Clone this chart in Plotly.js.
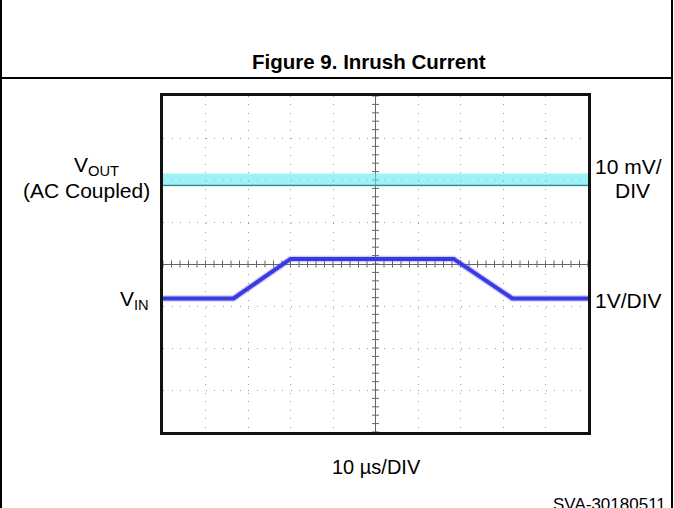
<!DOCTYPE html>
<html>
<head>
<meta charset="utf-8">
<script src="https://cdn.plot.ly/plotly-3.0.1.min.js"></script>
<style>html,body{margin:0;padding:0;background:#fff;}#chart{width:674px;height:508px;}</style>
</head>
<body>
<div id="chart"></div>
<script>
// ---- data (time in µs, 10 µs/div; amplitude in divisions) ----
const vinTime = [-50, -33.4, -20.0, 18.4, 32.2, 50];
const vinLevel = [-0.82, -0.82, 0.12, 0.12, -0.82, -0.82];
const voutTime = [-50, 50];
const voutBand = [2.0, 2.0];
const voutBase = [1.87, 1.87];
const xRange = [-50, 50];
const yRange = [-4, 4];

const titleText = "Figure 9. Inrush Current";
const leftLabels = ["V<sub>OUT</sub>", "(AC Coupled)", "V<sub>IN</sub>"];
const rightLabels = ["10 mV/", "DIV", "1V/DIV"];
const xLabel = "10 µs/DIV";
const docId = "SVA-30180511";

// ---- geometry ----
const W = 674, H = 508, L = 163, R = 588, T = 96, B = 432;
const xp = px => (px - L) / (R - L);
const yp = py => (B - py) / (B - T);
const FONT = "Liberation Sans, Arial, sans-serif";

// graticule tick marks on centre cross (decoration)
const tickX = [], tickX0 = [], tickY = [], tickY0 = [];
for (let i = -25; i <= 25; i++) { tickX.push(i * 2); tickX0.push(0); }
for (let i = -20; i <= 20; i++) { tickY.push(i * 0.2); tickY0.push(0); }

const traces = [
  {x: tickX, y: tickX0, mode: "markers", hoverinfo: "skip",
   marker: {symbol: "line-ns", size: 5, line: {width: 1, color: "#666"}}},
  {x: tickY0, y: tickY, mode: "markers", hoverinfo: "skip",
   marker: {symbol: "line-ew", size: 5, line: {width: 1, color: "#666"}}},
  {x: voutTime, y: voutBand, mode: "lines", hoverinfo: "skip",
   line: {color: "rgba(100,232,245,0.62)", width: 13}},
  {x: voutTime, y: voutBase, mode: "lines", hoverinfo: "skip",
   line: {color: "#3d7f86", width: 1.2}},
  {x: vinTime, y: vinLevel, mode: "lines", hoverinfo: "skip",
   line: {color: "rgba(90,90,240,0.3)", width: 6.5}},
  {x: vinTime, y: vinLevel, mode: "lines", hoverinfo: "skip",
   line: {color: "#3a3ae4", width: 4}}
];

const lab = (text, x, y, xa, size, bold) => ({
  text: bold ? "<b>" + text + "</b>" : text,
  xref: "paper", yref: "paper", x: xp(x), y: yp(y),
  xanchor: xa, yanchor: "middle", showarrow: false,
  font: {family: FONT, size: size, color: "#000"}
});

const layout = {
  width: W, height: H,
  margin: {l: L, r: W - R, t: T, b: H - B, pad: 0},
  paper_bgcolor: "#fff", plot_bgcolor: "#fff",
  showlegend: false,
  xaxis: {range: xRange, dtick: 10, tick0: 0, showticklabels: false, ticks: "",
    showgrid: true, gridcolor: "#9a9a9a", gridwidth: 1, griddash: "1px,7.48px",
    zeroline: true, zerolinecolor: "#666", zerolinewidth: 1,
    showline: true, mirror: true, linecolor: "#111", linewidth: 3, fixedrange: true},
  yaxis: {range: yRange, dtick: 1, tick0: 0, showticklabels: false, ticks: "",
    showgrid: true, gridcolor: "#9a9a9a", gridwidth: 1, griddash: "1px,7.5px",
    zeroline: true, zerolinecolor: "#666", zerolinewidth: 1,
    showline: true, mirror: true, linecolor: "#111", linewidth: 3, fixedrange: true},
  shapes: [
    {type: "line", xref: "paper", yref: "paper", x0: xp(1), x1: xp(1), y0: yp(0), y1: yp(H), line: {color: "#000", width: 2}},
    {type: "line", xref: "paper", yref: "paper", x0: xp(672), x1: xp(672), y0: yp(0), y1: yp(H), line: {color: "#000", width: 2}},
    {type: "line", xref: "paper", yref: "paper", x0: xp(1), x1: xp(672), y0: yp(78), y1: yp(78), line: {color: "#000", width: 2}}
  ],
  annotations: [
    lab(titleText, 369, 62, "center", 20.5, true),
    lab(leftLabels[0], 96, 166, "center", 21),
    lab(leftLabels[1], 86, 190, "center", 21),
    lab(leftLabels[2], 151, 300, "right", 21),
    lab(rightLabels[0], 593, 166, "left", 21),
    lab(rightLabels[1], 632, 190, "center", 21),
    lab(rightLabels[2], 593, 300, "left", 21),
    lab(xLabel, 376, 467, "center", 20),
    lab(docId, 668, 505, "right", 17)
  ]
};

Plotly.newPlot("chart", traces, layout, {staticPlot: true, displayModeBar: false});
</script>
</body>
</html>
